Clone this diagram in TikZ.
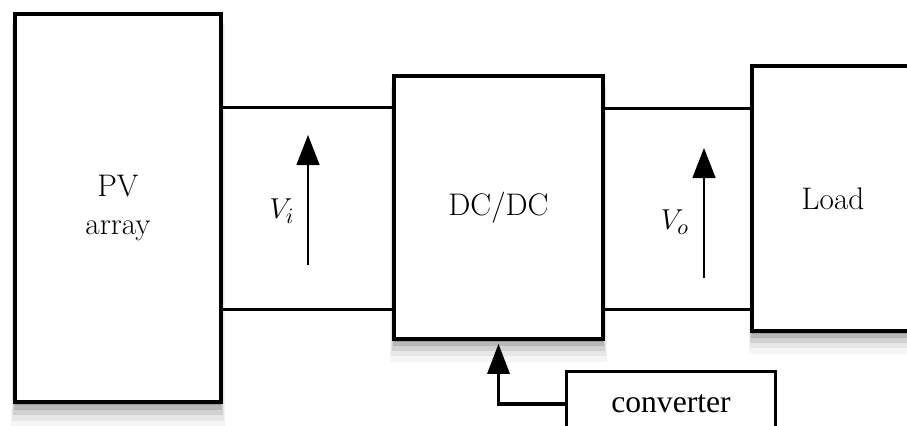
\documentclass[tikz,border=0pt]{standalone}
\usepackage{fontspec}
\usepackage{tikz}
\usetikzlibrary{arrows.meta,shadows}
\newfontfamily\convfont{Liberation Serif}
\tikzset{
  blocknode/.style = {align=center, inner sep=0pt, text centered,
    font=\fontsize{15.6}{19}\selectfont},
  blk_shadow/.style = {drop shadow={shadow xshift=0pt, shadow yshift=-1.5pt,
      opacity=.16, fill=black},
    drop shadow={shadow xshift=0pt, shadow yshift=-3pt, shadow scale=1.01,
      opacity=.12, fill=black},
    drop shadow={shadow xshift=0pt, shadow yshift=-4.5pt, shadow scale=1.02,
      opacity=.09, fill=black},
    drop shadow={shadow xshift=0pt, shadow yshift=-6.5pt, shadow scale=1.03,
      opacity=.06, fill=black},
    drop shadow={shadow xshift=0pt, shadow yshift=-8.5pt, shadow scale=1.04,
      opacity=.04, fill=black}},% ombre floue
  blk_main/.style = {blocknode, rectangle, draw=black, line width=1.8pt,
    fill=white, blk_shadow},% bloc principal
  blk_conv/.style = {blocknode, rectangle, draw=black, line width=1.2pt,
    fill=white, font=\convfont\fontsize{15.8}{19}\selectfont},% bloc converter
  bus/.style = {line width=1.5pt},% liaison
  volt/.style = {line width=0.7pt, -{Triangle[width=11.5pt,length=15pt]}},% tension
  ctrl/.style = {line width=1.6pt, -{Triangle[width=11pt,length=15pt]}}% commande
}

\begin{document}
\begin{tikzpicture}[x=0.5pt, y=-0.5pt]
  \useasboundingbox (0,0) rectangle (907,425);
  \clip (0,0) rectangle (907,425);
  \node [blk_main, minimum width=103pt, minimum height=194pt] (pv) at (118,208) {PV\\array};
  \node [blk_main, minimum width=104.5pt, minimum height=131.5pt] (dc) at (498.5,207.5) {DC/DC};
  \node [blk_main, minimum width=81pt, minimum height=132.5pt] (load) at (833,198.5) {Load};
  \node [blk_conv, minimum width=104.5pt, minimum height=32.5pt] (conv) at (671,404) {converter};
  \draw [bus] (pv.east |- 0,107) -- (dc.west |- 0,107);
  \draw [bus] (pv.east |- 0,309) -- (dc.west |- 0,309);
  \draw [bus] (dc.east |- 0,108) -- (load.west |- 0,108);
  \draw [bus] (dc.east |- 0,309) -- (load.west |- 0,309);
  \node [blocknode] (vi) at (282,211) {$V_i$};
  \node [blocknode] (vo) at (675,222) {$V_o$};
  \coordinate (vi_b) at (308,265);
  \coordinate (vi_t) at (308,135);
  \coordinate (vo_b) at (704,278);
  \coordinate (vo_t) at (704,148);
  \draw [volt] (vi_b) -- (vi_t);
  \draw [volt] (vo_b) -- (vo_t);
  \draw [ctrl, shorten >=1.5pt] (conv.west) -| (dc.south);
\end{tikzpicture}
\end{document}
